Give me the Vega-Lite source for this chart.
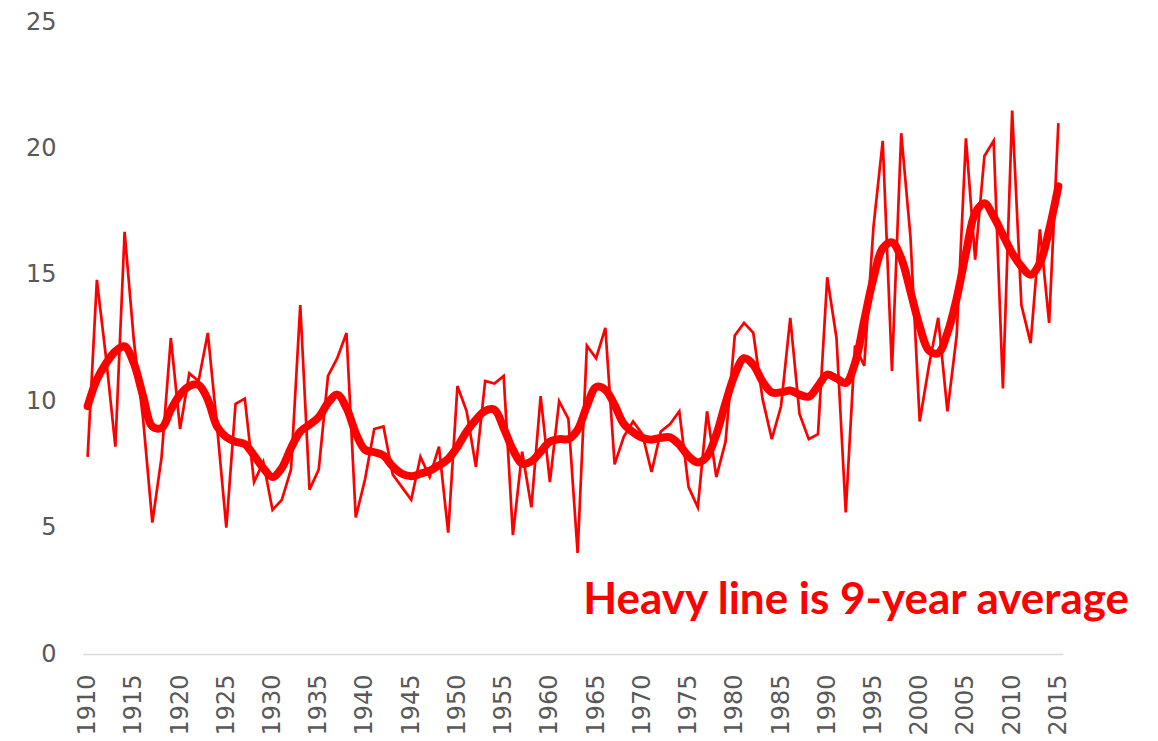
{
  "$schema": "https://vega.github.io/schema/vega-lite/v6.json",
  "autosize": {"type": "none"},
  "width": 980,
  "height": 632,
  "padding": {"left": 83, "top": 22, "right": 95, "bottom": 87},
  "background": "white",
  "config": {"view": {"stroke": null}},
  "datasets": {
    "series": [
      {"year": 1910, "annual": 7.8, "avg": 9.8},
      {"year": 1911, "annual": 14.8, "avg": 10.85},
      {"year": 1912, "annual": 11.7, "avg": 11.5},
      {"year": 1913, "annual": 8.2, "avg": 11.97},
      {"year": 1914, "annual": 16.7, "avg": 12.17},
      {"year": 1915, "annual": 12.4, "avg": 11.5},
      {"year": 1916, "annual": 9.3, "avg": 10.2},
      {"year": 1917, "annual": 5.2, "avg": 9.0},
      {"year": 1918, "annual": 7.8, "avg": 8.94},
      {"year": 1919, "annual": 12.5, "avg": 9.66},
      {"year": 1920, "annual": 8.9, "avg": 10.26},
      {"year": 1921, "annual": 11.1, "avg": 10.6},
      {"year": 1922, "annual": 10.8, "avg": 10.65},
      {"year": 1923, "annual": 12.7, "avg": 10.06},
      {"year": 1924, "annual": 9.0, "avg": 9.0},
      {"year": 1925, "annual": 5.0, "avg": 8.58},
      {"year": 1926, "annual": 9.9, "avg": 8.4},
      {"year": 1927, "annual": 10.1, "avg": 8.3},
      {"year": 1928, "annual": 6.8, "avg": 7.85},
      {"year": 1929, "annual": 7.6, "avg": 7.35},
      {"year": 1930, "annual": 5.7, "avg": 7.0},
      {"year": 1931, "annual": 6.1, "avg": 7.36},
      {"year": 1932, "annual": 7.3, "avg": 8.15},
      {"year": 1933, "annual": 13.8, "avg": 8.8},
      {"year": 1934, "annual": 6.5, "avg": 9.07},
      {"year": 1935, "annual": 7.3, "avg": 9.37},
      {"year": 1936, "annual": 11.0, "avg": 9.93},
      {"year": 1937, "annual": 11.7, "avg": 10.26},
      {"year": 1938, "annual": 12.7, "avg": 9.73},
      {"year": 1939, "annual": 5.4, "avg": 8.74},
      {"year": 1940, "annual": 6.9, "avg": 8.08},
      {"year": 1941, "annual": 8.9, "avg": 7.98},
      {"year": 1942, "annual": 9.0, "avg": 7.85},
      {"year": 1943, "annual": 7.1, "avg": 7.42},
      {"year": 1944, "annual": 6.6, "avg": 7.13},
      {"year": 1945, "annual": 6.1, "avg": 7.03},
      {"year": 1946, "annual": 7.8, "avg": 7.13},
      {"year": 1947, "annual": 7.0, "avg": 7.25},
      {"year": 1948, "annual": 8.2, "avg": 7.46},
      {"year": 1949, "annual": 4.8, "avg": 7.72},
      {"year": 1950, "annual": 10.6, "avg": 8.2},
      {"year": 1951, "annual": 9.6, "avg": 8.8},
      {"year": 1952, "annual": 7.4, "avg": 9.27},
      {"year": 1953, "annual": 10.8, "avg": 9.62},
      {"year": 1954, "annual": 10.7, "avg": 9.66},
      {"year": 1955, "annual": 11.0, "avg": 8.94},
      {"year": 1956, "annual": 4.7, "avg": 8.08},
      {"year": 1957, "annual": 8.0, "avg": 7.53},
      {"year": 1958, "annual": 5.8, "avg": 7.62},
      {"year": 1959, "annual": 10.2, "avg": 8.0},
      {"year": 1960, "annual": 6.8, "avg": 8.4},
      {"year": 1961, "annual": 10.0, "avg": 8.5},
      {"year": 1962, "annual": 9.3, "avg": 8.5},
      {"year": 1963, "annual": 4.0, "avg": 8.87},
      {"year": 1964, "annual": 12.2, "avg": 9.8},
      {"year": 1965, "annual": 11.7, "avg": 10.56},
      {"year": 1966, "annual": 12.9, "avg": 10.45},
      {"year": 1967, "annual": 7.5, "avg": 9.85},
      {"year": 1968, "annual": 8.6, "avg": 9.1},
      {"year": 1969, "annual": 9.2, "avg": 8.77},
      {"year": 1970, "annual": 8.7, "avg": 8.55},
      {"year": 1971, "annual": 7.2, "avg": 8.48},
      {"year": 1972, "annual": 8.8, "avg": 8.55},
      {"year": 1973, "annual": 9.1, "avg": 8.57},
      {"year": 1974, "annual": 9.6, "avg": 8.28},
      {"year": 1975, "annual": 6.6, "avg": 7.82},
      {"year": 1976, "annual": 5.8, "avg": 7.58},
      {"year": 1977, "annual": 9.6, "avg": 7.82},
      {"year": 1978, "annual": 7.0, "avg": 8.68},
      {"year": 1979, "annual": 8.4, "avg": 9.93},
      {"year": 1980, "annual": 12.6, "avg": 11.05},
      {"year": 1981, "annual": 13.1, "avg": 11.7},
      {"year": 1982, "annual": 12.7, "avg": 11.44},
      {"year": 1983, "annual": 10.1, "avg": 10.78},
      {"year": 1984, "annual": 8.5, "avg": 10.35},
      {"year": 1985, "annual": 9.8, "avg": 10.35},
      {"year": 1986, "annual": 13.3, "avg": 10.42},
      {"year": 1987, "annual": 9.5, "avg": 10.26},
      {"year": 1988, "annual": 8.5, "avg": 10.18},
      {"year": 1989, "annual": 8.7, "avg": 10.6},
      {"year": 1990, "annual": 14.9, "avg": 11.05},
      {"year": 1991, "annual": 12.5, "avg": 10.9},
      {"year": 1992, "annual": 5.6, "avg": 10.72},
      {"year": 1993, "annual": 12.2, "avg": 11.5},
      {"year": 1994, "annual": 11.4, "avg": 13.2},
      {"year": 1995, "annual": 16.9, "avg": 14.87},
      {"year": 1996, "annual": 20.3, "avg": 16.05},
      {"year": 1997, "annual": 11.2, "avg": 16.28},
      {"year": 1998, "annual": 20.6, "avg": 15.66},
      {"year": 1999, "annual": 16.5, "avg": 14.34},
      {"year": 2000, "annual": 9.2, "avg": 12.96},
      {"year": 2001, "annual": 11.4, "avg": 12.0},
      {"year": 2002, "annual": 13.3, "avg": 11.9},
      {"year": 2003, "annual": 9.6, "avg": 12.7},
      {"year": 2004, "annual": 12.6, "avg": 14.07},
      {"year": 2005, "annual": 20.4, "avg": 15.86},
      {"year": 2006, "annual": 15.6, "avg": 17.44},
      {"year": 2007, "annual": 19.7, "avg": 17.83},
      {"year": 2008, "annual": 20.3, "avg": 17.3},
      {"year": 2009, "annual": 10.5, "avg": 16.58},
      {"year": 2010, "annual": 21.5, "avg": 15.86},
      {"year": 2011, "annual": 13.8, "avg": 15.33},
      {"year": 2012, "annual": 12.3, "avg": 15.0},
      {"year": 2013, "annual": 16.8, "avg": 15.46},
      {"year": 2014, "annual": 13.1, "avg": 16.78},
      {"year": 2015, "annual": 21.0, "avg": 18.5}
    ],
    "note": [
      {"year": 1963.6, "value": 1.6, "label": "Heavy line is 9-year average"}
    ]
  },
  "encoding": {
    "x": {
      "field": "year",
      "type": "quantitative",
      "scale": {"domain": [1909.5, 2015.5], "nice": false, "zero": false},
      "axis": {
        "title": null,
        "values": [1910, 1915, 1920, 1925, 1930, 1935, 1940, 1945, 1950, 1955, 1960, 1965, 1970, 1975, 1980, 1985, 1990, 1995, 2000, 2005, 2010, 2015],
        "format": "d",
        "labelAngle": 270,
        "labelAlign": "right",
        "labelBaseline": "middle",
        "labelFont": "DejaVu Sans",
        "labelFontSize": 24,
        "labelColor": "#595959",
        "labelPadding": 20,
        "ticks": false,
        "tickSize": 0,
        "grid": false,
        "domainColor": "#d9d9d9",
        "domainWidth": 1.5,
        "labelOverlap": false,
        "labelFlush": false
      }
    }
  },
  "layer": [
    {
      "data": {"name": "series"},
      "mark": {"type": "line", "color": "#ff0000", "strokeWidth": 2.7, "interpolate": "linear", "clip": false},
      "encoding": {
        "y": {
          "field": "annual",
          "type": "quantitative",
          "scale": {"domain": [0, 25], "nice": false},
          "axis": {
            "title": null,
            "values": [0, 5, 10, 15, 20, 25],
            "labelFont": "DejaVu Sans",
            "labelFontSize": 24,
            "labelColor": "#595959",
            "labelPadding": 27,
            "ticks": false,
            "tickSize": 0,
            "domain": false,
            "grid": false
          }
        }
      }
    },
    {
      "data": {"name": "series"},
      "mark": {"type": "line", "color": "#ff0000", "strokeWidth": 8, "interpolate": "catmull-rom", "strokeCap": "round", "strokeJoin": "round", "clip": false},
      "encoding": {
        "y": {"field": "avg", "type": "quantitative"}
      }
    },
    {
      "data": {"name": "note"},
      "mark": {"type": "text", "align": "left", "baseline": "alphabetic", "font": "Lato", "fontWeight": "bold", "fontSize": 44, "color": "#ff0000"},
      "encoding": {
        "y": {"field": "value", "type": "quantitative"},
        "text": {"field": "label"}
      }
    }
  ]
}
